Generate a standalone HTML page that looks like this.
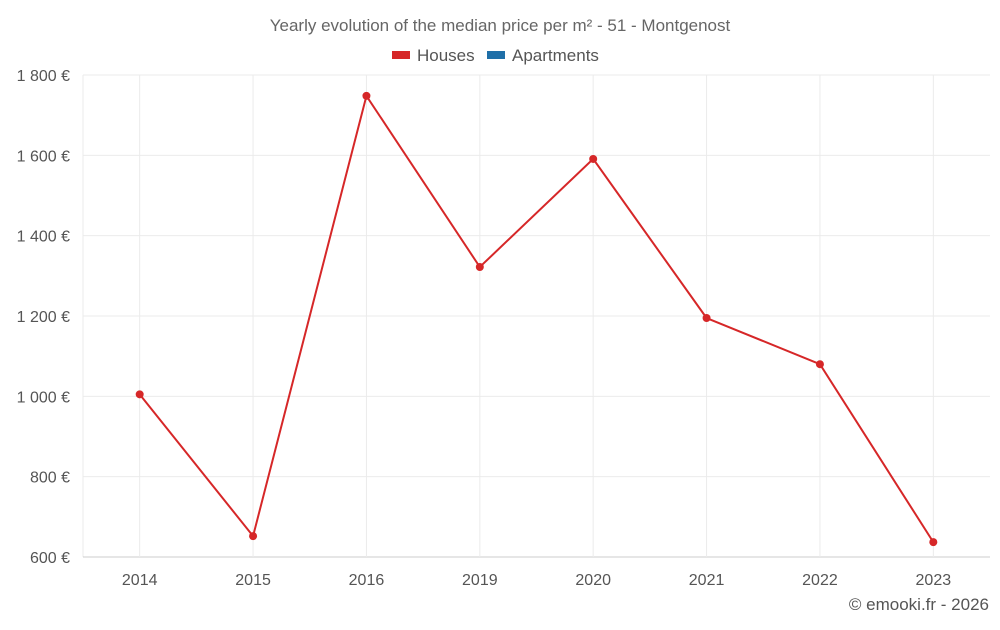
<!DOCTYPE html>
<html><head><meta charset="utf-8"><style>
body{margin:0;background:#fff;font-family:"Liberation Sans",sans-serif;}
svg text{font-family:"Liberation Sans",sans-serif;}
</style></head><body>
<svg id="chart" width="1000" height="625">
<text x="500" y="31" text-anchor="middle" font-size="17" fill="#666">Yearly evolution of the median price per m² - 51 - Montgenost</text>
<g><rect x="392" y="51" width="18" height="8" fill="#d62728"/><text x="417" y="61" font-size="17" fill="#555">Houses</text></g>
<g><rect x="487" y="51" width="18" height="8" fill="#1f6fa8"/><text x="512" y="61" font-size="17" fill="#555">Apartments</text></g>
<g id="grid"></g><g id="axes"></g><g id="series"></g>
<text x="989" y="610" text-anchor="end" font-size="17" fill="#555">© emooki.fr - 2026</text>
</svg>
<script>
const categories=["2014","2015","2016","2019","2020","2021","2022","2023"];
const houses=[1005,652,1748,1322,1591,1195,1080,637];
const yTicks=[600,800,1000,1200,1400,1600,1800];
const L=83,R=990,T=75,B=557,yMin=600,yMax=1800;
const ns="http://www.w3.org/2000/svg";
const bw=(R-L)/categories.length;
const x=i=>L+bw*(i+0.5);
const y=v=>B-(v-yMin)/(yMax-yMin)*(B-T);
function mk(t,a,p){const e=document.createElementNS(ns,t);for(const k in a)e.setAttribute(k,a[k]);p.appendChild(e);return e;}
const g=document.getElementById('grid'),ax=document.getElementById('axes'),s=document.getElementById('series');
const lv=mk('line',{x1:L,x2:L,y1:T,y2:B,stroke:'#ebebeb'},g);


yTicks.forEach(v=>{
 const l=mk('line',{x1:L,x2:R,y1:y(v),y2:y(v),stroke:v===yMin?'#ccc':'#ebebeb'},g);
 
 
 const t=mk('text',{x:70,y:y(v)+6,'text-anchor':'end','font-size':16,fill:'#555'},ax);
 t.textContent=String(v).replace(/\B(?=(\d{3})+(?!\d))/g,' ')+' €';
 
 
});
categories.forEach((c,i)=>{
 const l=mk('line',{x1:x(i),x2:x(i),y1:T,y2:B,stroke:'#ebebeb'},g);
 
 
 const t=mk('text',{x:x(i),y:585,'text-anchor':'middle','font-size':16,fill:'#555'},ax);
 t.textContent=c;
 
 
});
const p=mk('polyline',{points:houses.map((v,i)=>x(i)+','+y(v)).join(' '),fill:'none',stroke:'#d62728','stroke-width':2},s);


houses.forEach((v,i)=>{
 const c=mk('circle',{cx:x(i),cy:y(v),r:4,fill:'#d62728'},s);
 
 
});
</script>
</body></html>
